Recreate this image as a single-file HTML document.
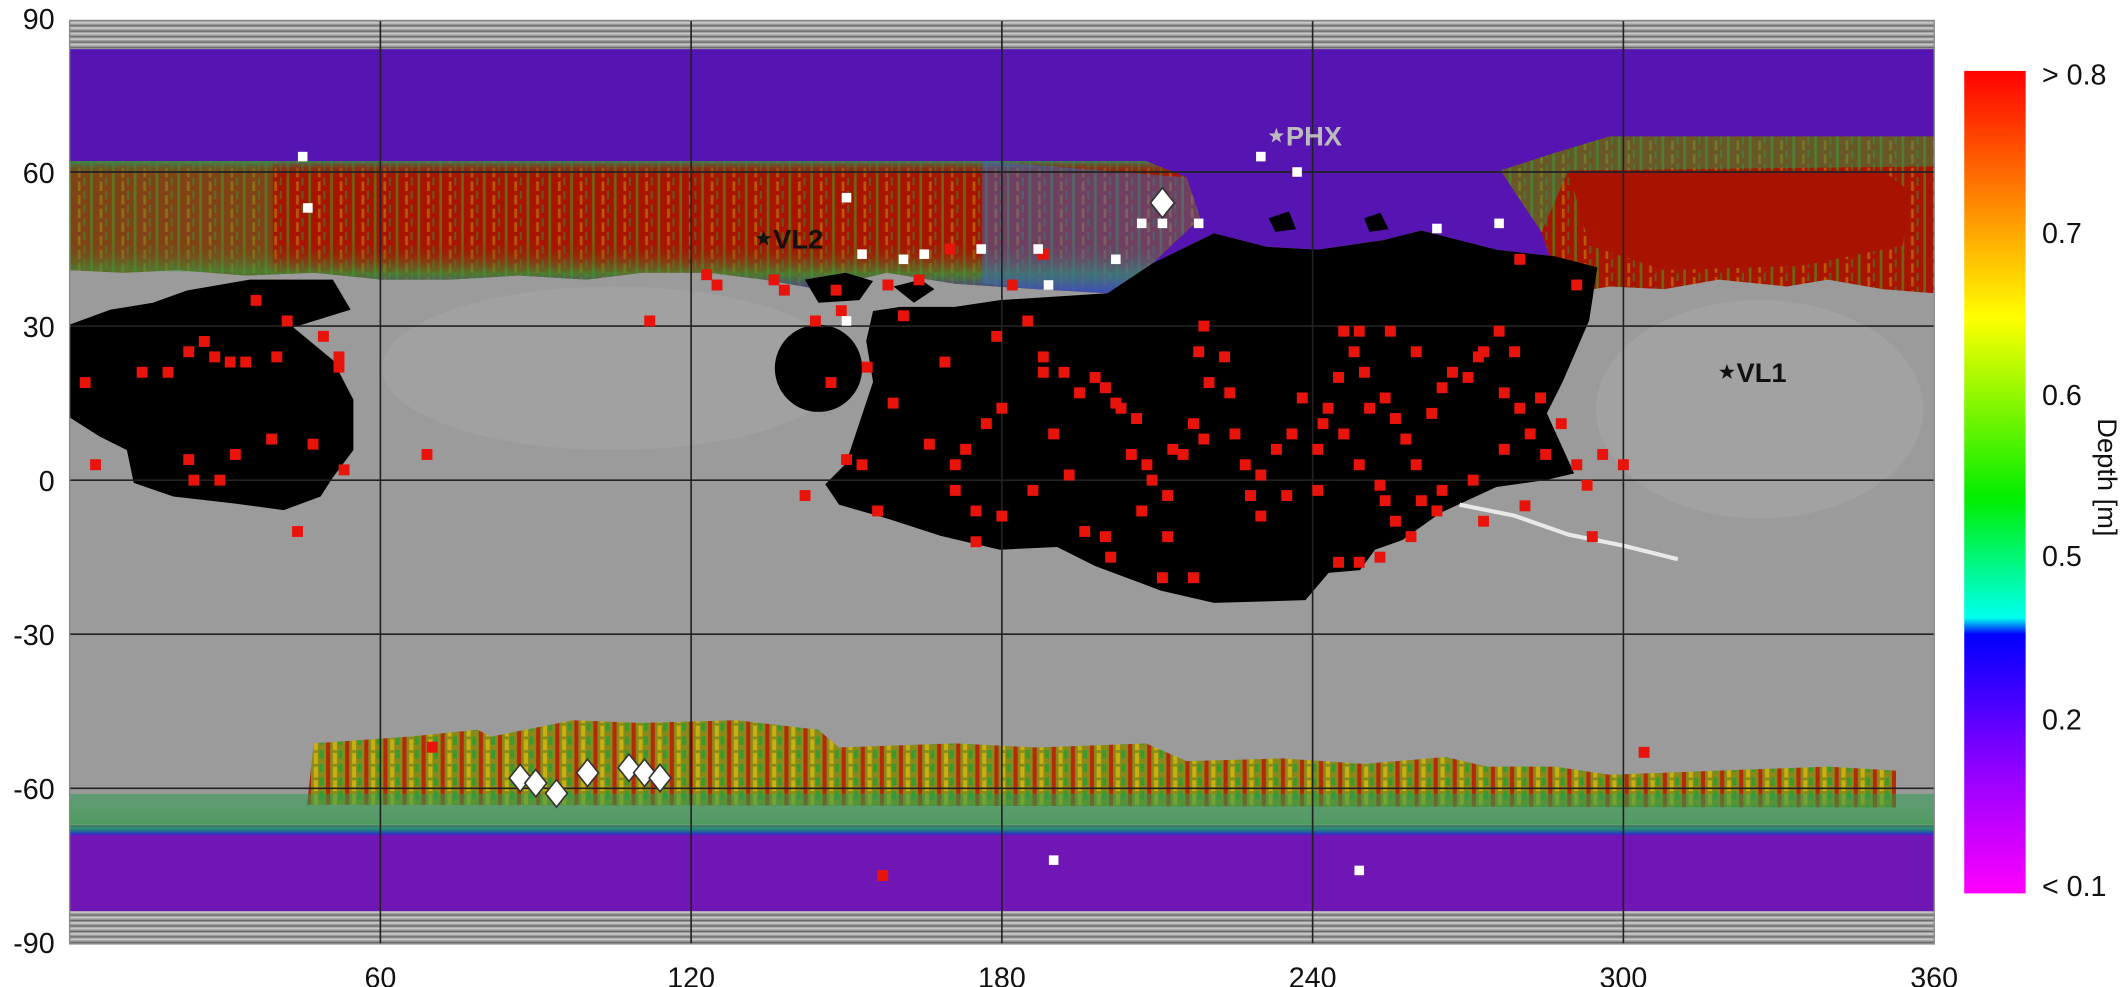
<!DOCTYPE html>
<html><head><meta charset="utf-8"><style>
html,body{margin:0;padding:0;background:#fff;}
svg{display:block;font-family:"Liberation Sans",sans-serif;}
</style></head><body>
<svg id="chart" width="2128" height="987" viewBox="0 0 1560 723.6" xmlns="http://www.w3.org/2000/svg">
<defs>
<linearGradient id="cbar" x1="0" y1="0" x2="0" y2="1">
<stop offset="0" stop-color="#ff0000"/><stop offset="0.18" stop-color="#ff9900"/>
<stop offset="0.30" stop-color="#ffff00"/><stop offset="0.52" stop-color="#00ee00"/>
<stop offset="0.665" stop-color="#00ffee"/><stop offset="0.685" stop-color="#0000ff"/>
<stop offset="0.86" stop-color="#9900ff"/><stop offset="1" stop-color="#ff00ff"/>
</linearGradient>
<pattern id="stripes" width="6" height="4" patternUnits="userSpaceOnUse">
<rect width="6" height="4" fill="#9a9a9a"/><rect y="0" width="6" height="1.3" fill="#c8c8c8"/><rect y="2.5" width="6" height="0.8" fill="#666"/>
</pattern>
<pattern id="nmix" width="16" height="10" patternUnits="userSpaceOnUse">
<rect width="16" height="10" fill="#a81400"/><rect x="2" width="2" height="10" fill="#4a9a20" opacity="0.6"/><rect x="9" y="3" width="2" height="7" fill="#c8a000" opacity="0.5"/><rect x="13" width="1.5" height="6" fill="#20a040" opacity="0.5"/>
</pattern>
<pattern id="smix" width="14" height="10" patternUnits="userSpaceOnUse">
<rect width="14" height="10" fill="#8a8a1a"/><rect x="1" width="3" height="10" fill="#b42a0a"/><rect x="6" y="2" width="3" height="8" fill="#c8b010"/><rect x="10" width="3" height="6" fill="#3a9a30"/>
</pattern>
<linearGradient id="ngrad" x1="0" y1="0" x2="0" y2="1">
<stop offset="0" stop-color="#2e8a60" stop-opacity="0.9"/><stop offset="0.12" stop-color="#a81400" stop-opacity="0"/>
<stop offset="0.6" stop-color="#a81400" stop-opacity="0"/><stop offset="0.85" stop-color="#30a040" stop-opacity="0.7"/><stop offset="1" stop-color="#3a30c0" stop-opacity="0.9"/>
</linearGradient>
<linearGradient id="sgrad" x1="0" y1="0" x2="0" y2="1">
<stop offset="0" stop-color="#40a030" stop-opacity="0"/><stop offset="0.6" stop-color="#40a030" stop-opacity="0.3"/>
<stop offset="0.8" stop-color="#20a060" stop-opacity="0.9"/><stop offset="1" stop-color="#2a2ad0" stop-opacity="1"/>
</linearGradient>
</defs>

<g>
<rect x="51" y="15" width="1367" height="677" fill="#9b9b9b"/>
<ellipse cx="1290" cy="300" rx="120" ry="80" fill="#b0b0b0" opacity="0.35"/>
<ellipse cx="450" cy="270" rx="170" ry="60" fill="#aaaaaa" opacity="0.4"/>
<rect x="51" y="15" width="1367" height="22" fill="url(#stripes)"/>
<rect x="51" y="668" width="1367" height="24" fill="url(#stripes)"/>
<path fill="#5614b2" d="M51,36 L1418,36 L1418,130 L1171,196 L1140,188 L1097,183 L1042,169 L1014,176 L966,183 L929,181 L890,171 L845,193 L840,125 L51,125 Z"/>
<path fill="url(#nmix)" d="M51,118 L840,118 L870,130 L880,160 L845,193 L812,215 L760,212 L700,208 L650,200 L600,212 L560,205 L520,200 L470,200 L430,205 L380,202 L330,205 L280,205 L230,200 L180,202 L130,198 L90,200 L51,198 Z"/>
<path fill="url(#ngrad)" d="M51,118 L840,118 L870,130 L880,160 L845,193 L812,215 L760,212 L700,208 L650,200 L600,212 L560,205 L520,200 L470,200 L430,205 L380,202 L330,205 L280,205 L230,200 L180,202 L130,198 L90,200 L51,198 Z"/>
<path fill="#3a9a40" opacity="0.35" d="M51,118 L200,118 L200,200 L51,198 Z"/>
<path fill="#3a6ac0" opacity="0.5" d="M720,118 L870,130 L880,160 L845,193 L812,215 L760,212 L720,208 Z"/>
<path fill="url(#nmix)" d="M1100,125 L1140,112 L1180,100 L1418,100 L1418,215 L1380,212 L1340,205 L1310,210 L1260,205 L1220,212 L1180,210 L1150,215 L1140,200 L1130,170 Z"/>
<path fill="#a81200" d="M1150,125 L1380,125 L1400,140 L1395,180 L1320,195 L1220,198 L1165,180 Z"/>
<path fill="#2a9a50" opacity="0.5" d="M1100,125 L1140,112 L1180,100 L1418,100 L1418,122 L1150,125 L1130,170 Z"/>
<rect x="51" y="605" width="1367" height="63" fill="#7016b4"/>
<path fill="url(#smix)" d="M225,590 L230,545 L300,540 L350,535 L360,540 L420,528 L470,530 L540,528 L600,535 L615,548 L700,545 L760,548 L840,545 L870,558 L940,556 L1000,560 L1060,555 L1090,562 L1140,562 L1180,568 L1260,565 L1340,562 L1390,565 L1390,592 Z"/>
<path fill="url(#sgrad)" d="M51,588 L1418,588 L1418,612 L51,612 Z"/>
<rect x="51" y="582" width="1367" height="22" fill="#2e9a50" opacity="0.55"/>
<path fill="#000" d="M51,238 L81,227 L112,222 L137,213 L183,205 L244,205 L257,227 L215,240 L244,264 L259,293 L259,330 L244,350 L235,364 L208,374 L171,369 L127,364 L98,354 L93,330 L73,320 L51,306 Z"/>
<ellipse cx="600" cy="270" rx="32" ry="32" fill="#000"/>
<path fill="#000" d="M590,205 L620,200 L640,206 L630,220 L600,222 Z M655,210 L675,205 L685,212 L670,222 Z M930,160 L945,155 L950,168 L935,170 Z M1000,160 L1012,156 L1018,168 L1004,170 Z"/>
<path fill="#000" d="M733,220 L812,215 L845,193 L890,171 L929,181 L966,183 L1014,176 L1042,169 L1097,183 L1140,188 L1171,196 L1165,235 L1146,279 L1134,303 L1154,347 L1133,352 L1097,357 L1056,376 L1028,396 L1008,403 L997,418 L974,420 L957,440 L890,442 L851,433 L803,415 L775,401 L733,403 L690,393 L650,380 L615,370 L605,355 L620,340 L630,310 L640,280 L635,250 L640,228 L660,225 L700,225 Z"/>
<path fill="none" stroke="#e8e8e8" stroke-width="3" d="M1070,370 L1110,378 L1150,392 L1190,400 L1230,410"/>
<g id="grid" stroke="#222" stroke-width="1.2"></g>
<g id="marks"></g>
<rect x="51" y="15" width="1367" height="677" fill="none" stroke="#888" stroke-width="1"/>
</g>
<g id="axes" font-size="21" fill="#111"></g>
<g>
<rect x="1440" y="52" width="45" height="603" fill="url(#cbar)"/>
<g font-size="21" fill="#111">
<text x="1497" y="62">&gt; 0.8</text>
<text x="1497" y="178">0.7</text>
<text x="1497" y="297">0.6</text>
<text x="1497" y="415">0.5</text>
<text x="1497" y="535">0.2</text>
<text x="1497" y="657">&lt; 0.1</text>
</g>
<text font-size="20" fill="#111" transform="translate(1538,350) rotate(90)" text-anchor="middle">Depth [m]</text>
</g>
</svg>
<script>
const lonTicks = [60, 120, 180, 240, 300, 360];
const latTicks = [90, 60, 30, 0, -30, -60, -90];
const redLon = [3,5,14,19,23,26,28,31,34,36,40,42,49,52,52,53,47,39,32,29,24,23,44,69,70,112,123,125,136,148,149,158,147,142,150,153,154,161,166,169,171,173,175,171,177,179,185,188,188,190,192,195,198,200,202,203,205,206,208,209,212,213,215,217,219,218,220,219,223,224,225,227,228,230,233,236,238,241,242,243,245,246,248,250,251,254,256,258,260,263,265,267,270,272,273,276,279,280,282,284,288,291,293,296,300,261,264,256,254,249,253,245,217,211,196,186,180,175,156,207,212,201,273,277,249,246,235,253,241,259,265,281,271,291,280,294,304,157,188,182,170,164,138,144,159,180,193,200,230,277,285,260,255,249];
const redLat = [19,3,21,21,25,27,24,23,23,35,24,31,28,24,22,2,7,8,5,0,0,4,-10,5,-52,31,40,38,39,37,33,38,19,-3,4,3,22,32,7,23,3,6,-6,-2,11,28,31,24,21,9,21,17,20,18,15,14,5,12,3,0,-3,6,5,11,8,25,19,30,24,17,9,3,-3,1,6,9,16,6,11,14,20,29,25,21,14,16,12,8,3,13,18,21,20,24,25,29,25,14,9,16,11,3,-1,5,3,-4,-6,-8,-4,-16,-15,-16,-19,-19,-10,-2,-7,-12,-6,-6,-11,-15,-8,6,3,9,-3,-1,-2,-11,-2,-5,0,38,43,-11,-53,-77,44,38,45,39,37,31,15,14,1,-11,-7,17,5,25,29,29];
const whiteLon = [45,46,150,153,161,165,176,187,189,202,207,211,218,237,230,264,276,150,190,249];
const whiteLat = [63,53,55,44,43,44,45,45,38,43,50,50,50,60,63,49,50,31,-74,-76];
const diamondLon = [211,87,90,94,100,108,111,114];
const diamondLat = [54,-58,-59,-61,-57,-56,-57,-58];
const diamondSize = [11,10,10,10,10,10,10,10];
const landerNames = ["VL2","PHX","VL1"];
const landerLon = [134,233,320];
const landerLat = [47,67,21];
const landerColor = ["#111","#bbbbbb","#111"];

const X = lon => 51 + lon * 3.797;
const Y = lat => 352 - lat * 3.765;
const NS = "http://www.w3.org/2000/svg";
function mk(tag, parent){ const e = document.createElementNS(NS, tag); parent.appendChild(e); return e; }
const grid = document.getElementById('grid');
const marks = document.getElementById('marks');
const axes = document.getElementById('axes');

lonTicks.forEach(t => {
  if (t < 360) {
    const l = mk('line', grid);
    
    
    l.setAttribute('x1', X(t)); l.setAttribute('x2', X(t)); l.setAttribute('y1', 15); l.setAttribute('y2', 692);
  }
  const tx = mk('text', axes);
  
  
  tx.setAttribute('x', X(t)); tx.setAttribute('y', 724); tx.setAttribute('text-anchor', 'middle');
  tx.textContent = t;
});
latTicks.forEach(t => {
  if (Math.abs(t) < 90) {
    const l = mk('line', grid);
    
    
    l.setAttribute('x1', 51); l.setAttribute('x2', 1418); l.setAttribute('y1', Y(t)); l.setAttribute('y2', Y(t));
  }
  const tx = mk('text', axes);
  
  
  tx.setAttribute('x', 40); tx.setAttribute('y', Y(t) + 8); tx.setAttribute('text-anchor', 'end');
  tx.textContent = t;
});

redLon.forEach((lon, i) => {
  const r = mk('rect', marks);
  
  
  r.setAttribute('x', X(lon) - 4); r.setAttribute('y', Y(redLat[i]) - 4);
  r.setAttribute('width', 8); r.setAttribute('height', 8); r.setAttribute('fill', '#e8140c');
});
whiteLon.forEach((lon, i) => {
  const r = mk('rect', marks);
  
  
  r.setAttribute('x', X(lon) - 3.5); r.setAttribute('y', Y(whiteLat[i]) - 3.5);
  r.setAttribute('width', 7); r.setAttribute('height', 7); r.setAttribute('fill', '#ffffff');
});
diamondLon.forEach((lon, i) => {
  const cx = X(lon), cy = Y(diamondLat[i]), s = diamondSize[i];
  const p = mk('polygon', marks);
  
  
  p.setAttribute('points', `${cx},${cy-s} ${cx+s*0.8},${cy} ${cx},${cy+s} ${cx-s*0.8},${cy}`);
  p.setAttribute('fill', '#fff'); p.setAttribute('stroke', '#333'); p.setAttribute('stroke-width', '1.2');
});
landerNames.forEach((nm, i) => {
  const cx = X(landerLon[i]), cy = Y(landerLat[i]);
  const st = mk('polygon', marks);
  
  
  let pts = [];
  for (let k = 0; k < 10; k++) {
    const a = -Math.PI/2 + k*Math.PI/5, rr = k % 2 ? 2.4 : 6;
    pts.push((cx + rr*Math.cos(a)).toFixed(1) + ',' + (cy + rr*Math.sin(a)).toFixed(1));
  }
  st.setAttribute('points', pts.join(' '));
  st.setAttribute('fill', landerColor[i]);
  const t = mk('text', marks);
  
  
  t.setAttribute('x', cx + 7); t.setAttribute('y', cy + 7);
  t.setAttribute('font-size', '20'); t.setAttribute('font-weight', 'bold');
  t.setAttribute('fill', landerColor[i]);
  t.textContent = nm;
});
</script>
</body></html>
